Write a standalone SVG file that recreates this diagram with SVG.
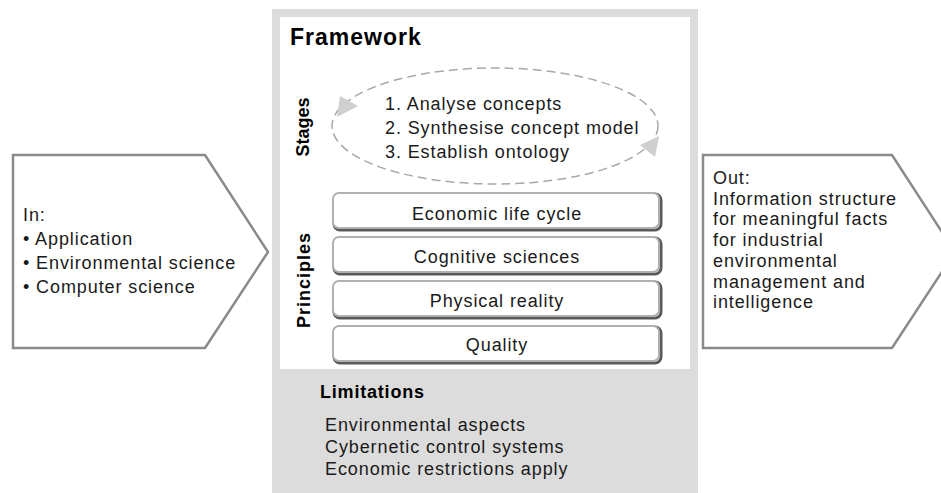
<svg xmlns="http://www.w3.org/2000/svg" width="941" height="493" viewBox="0 0 941 493">
<style>
.t{font-family:"Liberation Sans",Arial,sans-serif;font-size:18px;fill:#1a1a1a;letter-spacing:0.9px}
.b{font-family:"Liberation Sans",Arial,sans-serif;font-weight:bold;fill:#000}
.pent{fill:#fff;stroke:#8a8a8a;stroke-width:2.5}
.box{fill:#fff;stroke:#b0b0b0;stroke-width:2}
.shadow{fill:none;stroke:#5a5a5a;stroke-width:3}
.arrow{fill:#cfcfcf}
</style>
<rect width="941" height="493" fill="#fff"/>
<g id="framework">
<rect x="272" y="9" width="426" height="484" fill="#dcdcdc"/>
<rect x="280" y="17" width="410" height="352" fill="#fff"/>
<text class="b" x="290" y="45" font-size="23" letter-spacing="1">Framework</text>
</g>
<g id="stages">
<text class="b" font-size="18" text-anchor="middle" transform="translate(309,127) rotate(-90)">Stages</text>
<ellipse cx="495" cy="126" rx="163" ry="58" fill="none" stroke="#a8a8a8" stroke-width="1.5" stroke-dasharray="9 5"/>
<polygon class="arrow" points="340,96 358,106 337,117"/>
<polygon class="arrow" points="659,136 640,145 655,157"/>
<text class="t" x="385" y="110">1. Analyse concepts</text>
<text class="t" x="385" y="134">2. Synthesise concept model</text>
<text class="t" x="385" y="158">3. Establish ontology</text>
</g>
<g id="principles">
<text class="b" font-size="18" letter-spacing="1" text-anchor="middle" transform="translate(310,280) rotate(-90)">Principles</text>
</g>
<g id="p-economic">
<rect class="shadow" x="334" y="194" width="327" height="36" rx="6"/>
<rect class="box" x="333" y="193" width="326" height="35" rx="6"/>
<text class="t" x="497" y="220" text-anchor="middle">Economic life cycle</text>
</g>
<g id="p-cognitive">
<rect class="shadow" x="334" y="238" width="327" height="36" rx="6"/>
<rect class="box" x="333" y="237" width="326" height="35" rx="6"/>
<text class="t" x="497" y="263" text-anchor="middle">Cognitive sciences</text>
</g>
<g id="p-physical">
<rect class="shadow" x="334" y="282" width="327" height="36" rx="6"/>
<rect class="box" x="333" y="281" width="326" height="35" rx="6"/>
<text class="t" x="497" y="307" text-anchor="middle">Physical reality</text>
</g>
<g id="p-quality">
<rect class="shadow" x="334" y="327" width="327" height="36" rx="6"/>
<rect class="box" x="333" y="326" width="326" height="35" rx="6"/>
<text class="t" x="497" y="351" text-anchor="middle">Quality</text>
</g>
<g id="limitations">
<text class="b" x="320" y="398" font-size="18" letter-spacing="0.8">Limitations</text>
<text class="t" x="325" y="431" letter-spacing="1">Environmental aspects</text>
<text class="t" x="325" y="453" letter-spacing="1">Cybernetic control systems</text>
<text class="t" x="325" y="475" letter-spacing="1">Economic restrictions apply</text>
</g>
<g id="in">
<polygon class="pent" points="13,155 205,155 268,252 205,348 13,348"/>
<text class="t" x="23" y="221" letter-spacing="1">In:</text>
<text class="t" x="23" y="245" letter-spacing="1">• Application</text>
<text class="t" x="23" y="269" letter-spacing="1">• Environmental science</text>
<text class="t" x="23" y="293" letter-spacing="1">• Computer science</text>
</g>
<g id="out">
<polygon class="pent" points="703,155 892,155 955,252 892,348 703,348"/>
<text class="t" x="713" y="184">Out:</text>
<text class="t" x="713" y="205">Information structure</text>
<text class="t" x="713" y="225">for meaningful facts</text>
<text class="t" x="713" y="246">for industrial</text>
<text class="t" x="713" y="267">environmental</text>
<text class="t" x="713" y="288">management and</text>
<text class="t" x="713" y="308">intelligence</text>
</g>
<g id="connectors"></g>
</svg>
